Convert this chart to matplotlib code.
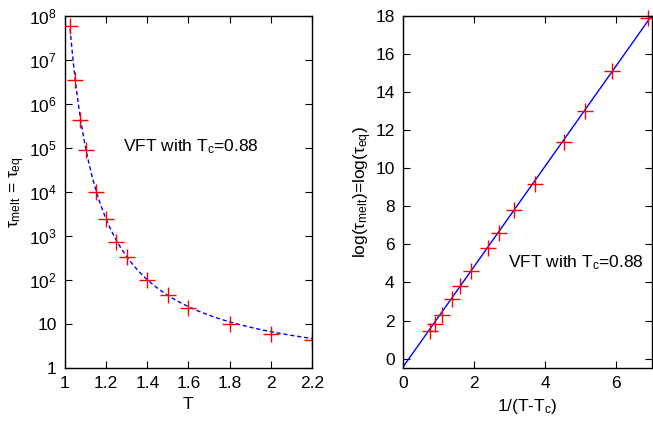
import numpy as np
import matplotlib
matplotlib.use("Agg")
from matplotlib import pyplot as plt

plt.rcParams['font.family'] = ['Liberation Sans', 'DejaVu Sans']
plt.rcParams['mathtext.fontset'] = 'custom'
plt.rcParams['mathtext.rm'] = 'Liberation Sans'
plt.rcParams['mathtext.it'] = 'Liberation Sans'
plt.rcParams['font.size'] = 12.5

# data
Tc = 0.88
temps = [1.025, 1.05, 1.075, 1.1, 1.15, 1.2, 1.25, 1.3, 1.4, 1.5, 1.6, 1.8, 2.0, 2.2]
logTau = [17.9, 15.1, 13.0, 11.4, 9.2, 7.8, 6.6, 5.8, 4.6, 3.8, 3.15, 2.3, 1.8, 1.45]

# VFT fit parameters: ln(tau) = fitA + fitB / (T - Tc)
fitA = -0.45
fitB = 2.64

tau = np.exp(logTau)
invT = 1.0 / (np.array(temps) - Tc)

fig = plt.figure(figsize=(6.53, 4.26), dpi=100)
ax1 = fig.add_axes([0.0995, 0.136, 0.378, 0.826])
ax2 = fig.add_axes([0.617, 0.136, 0.381, 0.826])

# left panel: tau vs T, log scale
Tfit = np.linspace(temps[0], 2.2, 400)
ax1.plot(Tfit, np.exp(fitA + fitB / (Tfit - Tc)), "--", color="blue", lw=1.0, dashes=(3, 2))
ax1.plot(temps, tau, "+", color="red", ms=12, mew=1.0)
ax1.set_yscale("log")
ax1.set_xlim(1, 2.2)
ax1.set_ylim(1, 1e8)
ax1.set_xticks([1, 1.2, 1.4, 1.6, 1.8, 2, 2.2])
ax1.set_xticklabels(["1", "1.2", "1.4", "1.6", "1.8", "2", "2.2"])
yt = [10.0**k for k in range(9)]
ax1.set_yticks(yt)
ax1.set_yticklabels(["1", "10"] + [r"$10^{%d}$" % k for k in range(2, 9)])
ax1.minorticks_off()
ax1.set_xlabel("T")
ax1.set_ylabel(r"$\tau_{\rm melt}$ = $\tau_{\rm eq}$", labelpad=1)
ax1.text(0.51, 0.628, r"VFT with T$_{\rm c}$=0.88", ha="center", va="center", transform=ax1.transAxes)

# right panel: ln(tau) vs 1/(T-Tc)
xl = np.array([0.0, 7.0])
ax2.plot(xl, fitA + fitB * xl, "-", color="blue", lw=1.0)
ax2.plot(invT, logTau, "+", color="red", ms=12, mew=1.0, clip_on=False)
ax2.set_xlim(0, 7)
ax2.set_ylim(-0.5, 18)
ax2.set_xticks([0, 2, 4, 6])
ax2.set_yticks(range(0, 19, 2))
ax2.set_xlabel(r"1/(T-T$_{\rm c}$)")
ax2.set_ylabel(r"log($\tau_{\rm melt}$)=log($\tau_{\rm eq}$)", labelpad=1)
ax2.text(0.695, 0.30, r"VFT with T$_{\rm c}$=0.88", ha="center", va="center", transform=ax2.transAxes)

for ax in (ax1, ax2):
    ax.tick_params(direction="in", top=True, right=True, length=5, width=0.8, labelsize=12.5, pad=6)
    for s in ax.spines.values():
        s.set_linewidth(1.0)

fig.savefig("out.png", dpi=100)
